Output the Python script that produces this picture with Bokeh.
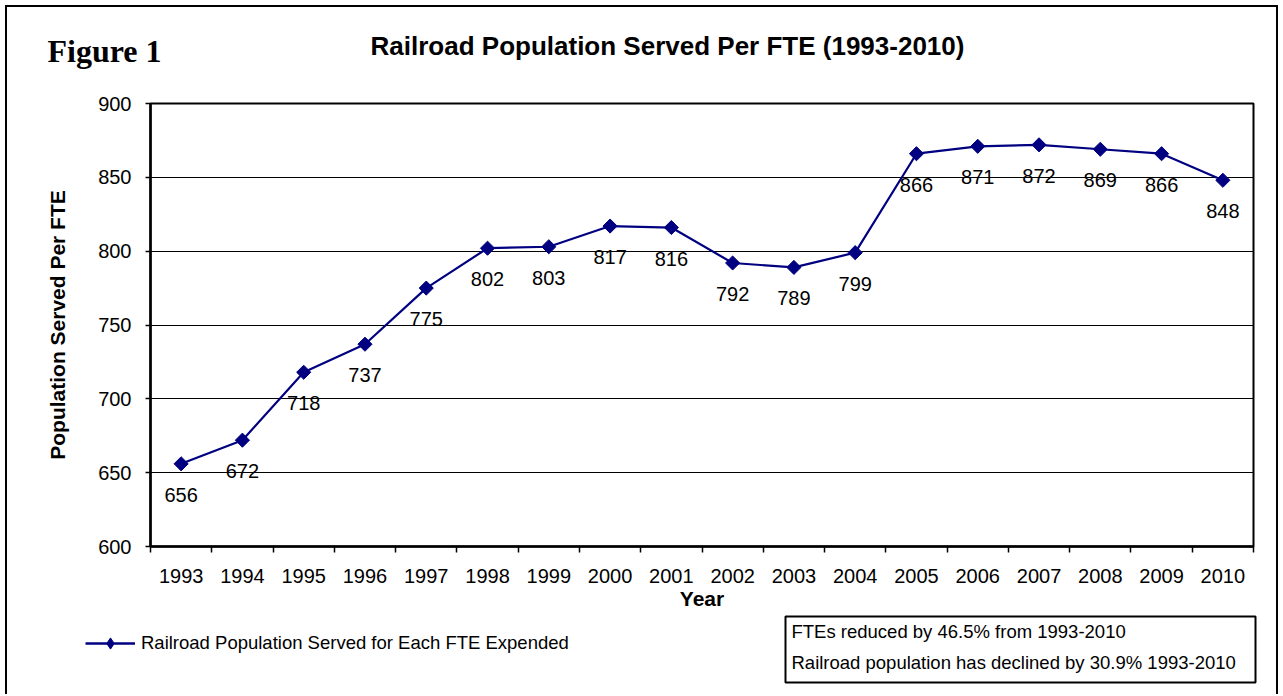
import math
from bokeh.plotting import figure
from bokeh.layouts import column, row
from bokeh.models import (Range1d, FixedTicker, Legend, LegendItem, ColumnDataSource,
                          InlineStyleSheet)
from bokeh.core.properties import value
from bokeh.embed import file_html
from bokeh.resources import INLINE

years = ["1993", "1994", "1995", "1996", "1997", "1998", "1999", "2000", "2001",
         "2002", "2003", "2004", "2005", "2006", "2007", "2008", "2009", "2010"]
served = [656, 672, 718, 737, 775, 802, 803, 817, 816, 792, 789, 799, 866, 871, 872, 869, 866, 848]
y_ticks = [600, 650, 700, 750, 800, 850, 900]

fig_label = "Figure 1"
title_text = "Railroad Population Served Per FTE (1993-2010)"
series_name = "Railroad Population Served for Each FTE Expended"
note_lines = ["FTEs reduced by 46.5% from 1993-2010",
              "Railroad population has declined by 30.9% 1993-2010"]

W = 1269
H_TOP, H_MAIN, H_BOT = 81, 524, 82
FONT = "Liberation Sans"
SERIF = "Liberation Serif"
navy = "#000080"
NAN = float("nan")


def blank(h):
    f = figure(width=W, height=h, output_backend="svg", toolbar_location=None,
               x_range=Range1d(0, W), y_range=Range1d(h, 0),
               x_axis_location=None, y_axis_location=None,
               min_border_left=0, min_border_right=0, min_border_top=0, min_border_bottom=0)
    f.grid.visible = False
    f.outline_line_color = None
    f.background_fill_color = "white"
    f.border_fill_color = "white"
    return f


# ---------- top: heading ----------
top = blank(H_TOP)
top.text(x=[40], y=[43], text=[fig_label], text_font=value(SERIF), text_font_size="32px",
         text_font_style="bold", text_color="black", text_align="left", text_baseline="middle")
top.text(x=[660], y=[38], text=[title_text], text_font=value(FONT), text_font_size="26px",
         text_font_style="bold", text_color="black", text_align="center", text_baseline="middle")

# ---------- main chart ----------
xs = [i + 0.5 for i in range(len(years))]
src = ColumnDataSource(dict(x=xs, y=served, lab=[str(v) for v in served]))

p = figure(width=W, height=H_MAIN, output_backend="svg", toolbar_location=None,
           x_range=Range1d(0, len(years)), y_range=Range1d(600, 900),
           min_border_left=143, min_border_right=23, min_border_top=15, min_border_bottom=66)
p.background_fill_color = "white"
p.border_fill_color = "white"
p.outline_line_color = "black"
p.outline_line_width = 2

p.xaxis.ticker = FixedTicker(ticks=xs, minor_ticks=list(range(len(years) + 1)))
p.xaxis.major_label_overrides = {x: y for x, y in zip(xs, years)}
p.xaxis.major_tick_out = 0
p.xaxis.major_tick_in = 0
p.xaxis.minor_tick_out = 6
p.xaxis.minor_tick_in = 0
p.xaxis.minor_tick_line_color = "black"
p.xaxis.minor_tick_line_width = 1.5
p.xaxis.axis_line_width = 2.5
p.xaxis.axis_line_color = "black"
p.xaxis.major_label_text_font = FONT
p.xaxis.major_label_text_font_size = "20px"
p.xaxis.major_label_text_color = "black"
p.xaxis.major_label_standoff = 16
p.xaxis.axis_label = "Year"
p.xaxis.axis_label_text_font = FONT
p.xaxis.axis_label_text_font_size = "21px"
p.xaxis.axis_label_text_font_style = "bold"
p.xaxis.axis_label_text_color = "black"
p.xaxis.axis_label_standoff = 1

p.yaxis.ticker = FixedTicker(ticks=y_ticks, minor_ticks=[])
p.yaxis.major_tick_out = 5
p.yaxis.major_tick_in = 0
p.yaxis.major_tick_line_width = 1.5
p.yaxis.axis_line_width = 2.5
p.yaxis.axis_line_color = "black"
p.yaxis.major_label_text_font = FONT
p.yaxis.major_label_text_font_size = "20px"
p.yaxis.major_label_text_color = "black"
p.yaxis.major_label_standoff = 14
p.yaxis.axis_label = "Population Served Per FTE"
p.yaxis.axis_label_text_font = FONT
p.yaxis.axis_label_text_font_size = "21px"
p.yaxis.axis_label_text_font_style = "bold"
p.yaxis.axis_label_text_color = "black"
p.yaxis.axis_label_standoff = 26

p.xgrid.visible = False
p.ygrid.ticker = FixedTicker(ticks=y_ticks)
p.ygrid.grid_line_color = "black"
p.ygrid.grid_line_width = 1

p.line("x", "y", source=src, line_color=navy, line_width=2.2)
p.scatter("x", "y", source=src, marker="square", angle=math.pi / 4, size=10,
          fill_color=navy, line_color=navy)
p.text("x", "y", text="lab", source=src, text_align="center", text_baseline="middle",
       y_offset=31, text_font=value(FONT), text_font_size="20px", text_color="black")

# ---------- bottom: legend and note ----------
bot = blank(H_BOT)
lg_line = bot.line(x=[NAN, NAN], y=[NAN, NAN], line_color=navy, line_width=2.6)
lg_mark = bot.scatter(x=[NAN], y=[NAN], marker="diamond", size=14,
                      fill_color=navy, line_color=navy)
legend = Legend(items=[LegendItem(label=series_name, renderers=[lg_line, lg_mark])],
                location=(78, 37), padding=0, margin=0, border_line_color=None,
                background_fill_alpha=0, glyph_width=50, glyph_height=28, label_standoff=6,
                label_height=28, label_text_font=FONT, label_text_font_size="18.5px",
                label_text_color="black", label_text_baseline="middle")
bot.add_layout(legend, "center")

bot.quad(left=[778], right=[1248], top=[4], bottom=[70], fill_color="white",
         line_color="black", line_width=2)
bot.text(x=[784, 784], y=[19, 50], text=note_lines, text_font=value(FONT),
         text_font_size="18.5px", text_color="black", text_align="left", text_baseline="middle")

css = InlineStyleSheet(css=":host { border: 2px solid black; border-bottom: none; margin: 5px 0 0 5px; }")
layout = column(row(top), p, row(bot), spacing=0, stylesheets=[css])

open("out.html", "w").write(file_html(layout, INLINE))
